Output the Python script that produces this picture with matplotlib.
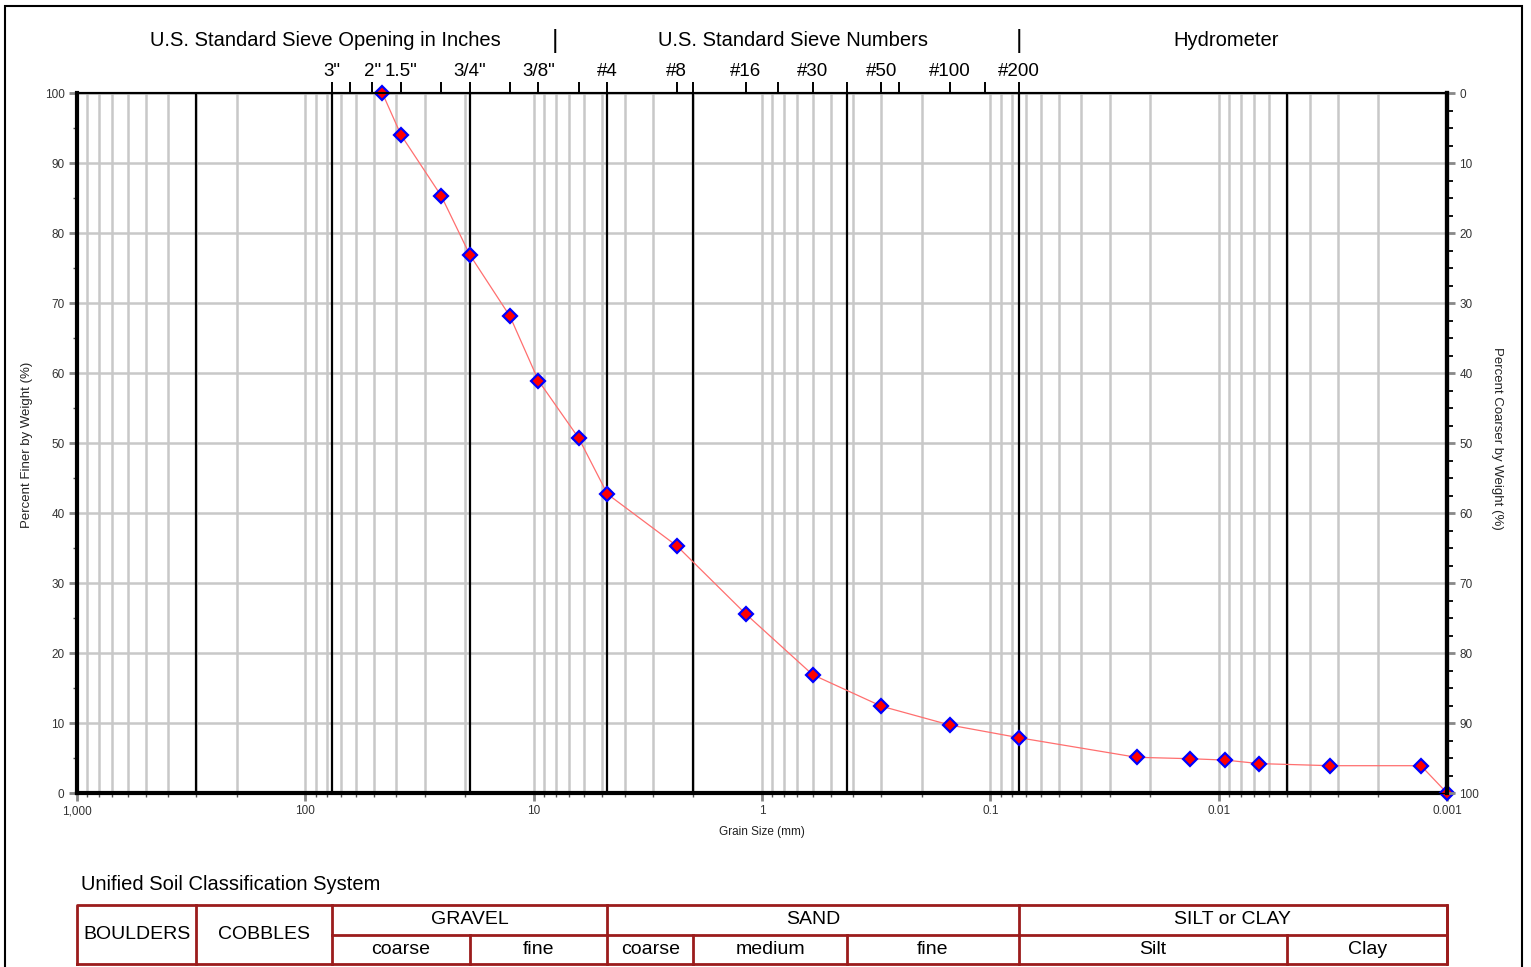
import matplotlib
matplotlib.use('Agg')
import matplotlib.pyplot as plt
from matplotlib.patches import Rectangle
from matplotlib.ticker import FixedLocator, NullLocator

plt.rcParams['font.family'] = ['Liberation Sans', 'DejaVu Sans']

# curva granulométrica
grain_mm = [46.0, 38.1, 25.4, 19.05, 12.7, 9.525, 6.35, 4.75, 2.36, 1.18, 0.6, 0.3,
            0.15, 0.075, 0.0229, 0.01335, 0.00935, 0.00665, 0.00324, 0.0013, 0.001]
pct_finer = [100, 94.0, 85.3, 76.9, 68.1, 58.9, 50.7, 42.7, 35.3, 25.6, 16.9, 12.4,
             9.7, 7.9, 5.1, 4.9, 4.7, 4.2, 3.9, 3.9, 0]

# tamices (eje superior)
sieve_mm = [76.2, 63.5, 50.8, 38.1, 25.4, 19.05, 12.7, 9.525, 6.35, 4.75, 2.36, 2.0,
            1.18, 0.85, 0.6, 0.425, 0.3, 0.25, 0.15, 0.106, 0.075]
sieve_lbl = ['3"', '', '2"', '1.5"', '', '3/4"', '', '3/8"', '', '#4', '#8', '',
             '#16', '', '#30', '', '#50', '', '#100', '', '#200']

# límites de clasificación USCS
bounds_mm = [300, 76.2, 19.05, 4.75, 2.0, 0.425, 0.075, 0.005]

x_ticks = [1000, 100, 10, 1, 0.1, 0.01, 0.001]
x_tick_lbl = ['1,000', '100', '10', '1', '0.1', '0.01', '0.001']

# tabla USCS: (desde, hasta, texto)
main_cells = [(1000, 300, 'BOULDERS'), (300, 76.2, 'COBBLES')]
top_cells = [(76.2, 4.75, 'GRAVEL'), (4.75, 0.075, 'SAND'), (0.075, 0.001, 'SILT or CLAY')]
sub_cells = [(76.2, 19.05, 'coarse'), (19.05, 4.75, 'fine'), (4.75, 2.0, 'coarse'),
             (2.0, 0.425, 'medium'), (0.425, 0.075, 'fine'), (0.075, 0.005, 'Silt'),
             (0.005, 0.001, 'Clay')]

W, H = 1531, 967
fig = plt.figure(figsize=(W / 100, H / 100), dpi=100)
fig.patch.set_facecolor('white')

ax = fig.add_axes([77 / W, 1 - 793 / H, 1370 / W, 700 / H])
ax.set_xscale('log')
ax.set_xlim(1000, 0.001)
ax.set_ylim(0, 100)

grid_c = '#c8c8c8'
ax.xaxis.set_major_locator(FixedLocator(x_ticks))
ax.xaxis.set_minor_locator(FixedLocator([k * 10.0 ** e for e in range(-3, 3) for k in range(2, 10)]))
ax.set_xticklabels(x_tick_lbl)
ax.set_yticks(range(0, 101, 10))
ax.yaxis.set_minor_locator(FixedLocator(range(5, 100, 10)))
ax.grid(which='both', axis='x', color=grid_c, lw=1.8)
ax.grid(which='major', axis='y', color=grid_c, lw=1.8)
ax.set_axisbelow(True)

ax.tick_params(axis='both', which='major', direction='out', length=6, width=2,
               color='#888888', labelsize=8.5, labelcolor='#333333', pad=3)
ax.tick_params(axis='both', which='minor', direction='out', length=3, width=1,
               color='#555555')
ax.tick_params(top=False, which='both')

for b in bounds_mm:
    ax.axvline(b, color='black', lw=1.6, zorder=2)

ax.plot(grain_mm, pct_finer, color='#ff6f6f', lw=0.9, zorder=3)
ax.plot(grain_mm, pct_finer, 'D', ms=7, mfc='red', mec='blue', mew=1.6, zorder=5,
        clip_on=False)

for s in ['left', 'bottom', 'right']:
    ax.spines[s].set_linewidth(3)
ax.spines['top'].set_linewidth(1.5)

# eje derecho: porcentaje retenido
ax_r = ax.twinx()
ax_r.set_ylim(100, 0)
ax_r.set_yticks(range(0, 101, 10))
ax_r.yaxis.set_minor_locator(FixedLocator([v * 2.5 for v in range(41)]))
ax_r.tick_params(axis='y', which='major', direction='out', length=6, width=2,
                 color='#888888', labelsize=8.5, labelcolor='#333333', pad=3)
ax_r.tick_params(axis='y', which='minor', direction='out', length=4, width=1.3,
                 color='black')
ax_r.spines['right'].set_linewidth(3)

# eje superior: tamices
ax_t = ax.twiny()
ax_t.set_xscale('log')
ax_t.set_xlim(1000, 0.001)
ax_t.xaxis.set_major_locator(FixedLocator(sieve_mm))
ax_t.xaxis.set_minor_locator(NullLocator())
ax_t.set_xticklabels(sieve_lbl)
ax_t.tick_params(axis='x', direction='out', length=8, width=1.4, color='black',
                 labelsize=13.5, pad=1)
ax_t.spines['top'].set_linewidth(1.5)

fig.text(325 / W, 1 - 41 / H, 'U.S. Standard Sieve Opening in Inches', fontsize=14.5,
         ha='center', va='center')
fig.text(793 / W, 1 - 41 / H, 'U.S. Standard Sieve Numbers', fontsize=14.5,
         ha='center', va='center')
fig.text(1226 / W, 1 - 41 / H, 'Hydrometer', fontsize=14.5, ha='center', va='center')
for xs in [555, 1019]:
    fig.text(xs / W, 1 - 41 / H, '|', fontsize=18, ha='center', va='center')

fig.text(762 / W, 1 - 832 / H, 'Grain Size (mm)', fontsize=8.5, ha='center',
         va='center', color='#222222')
fig.text(27 / W, 1 - 445 / H, 'Percent Finer by Weight (%)', fontsize=9.5, rotation=90,
         ha='center', va='center', color='#222222')
fig.text(1497 / W, 1 - 438 / H, 'Percent Coarser by Weight (%)', fontsize=9.5,
         rotation=-90, ha='center', va='center', color='#222222')

# tabla de clasificación
fig.text(81 / W, 1 - 884 / H, 'Unified Soil Classification System', fontsize=14.5,
         ha='left', va='center')
tab = fig.add_axes([77 / W, 1 - 964 / H, 1370 / W, (964 - 905) / H])
tab.set_xscale('log')
tab.set_xlim(1000, 0.001)
tab.set_ylim(0, 2)
tab.axis('off')
red = '#9b1c1c'
lk = dict(color=red, lw=2, clip_on=False, solid_capstyle='projecting')
tab.plot([1000, 0.001, 0.001, 1000, 1000], [0, 0, 2, 2, 0], **lk)
tab.plot([76.2, 0.001], [1, 1], **lk)
for a, b, t in main_cells:
    tab.plot([b, b], [0, 2], **lk)
    tab.text((a * b) ** 0.5, 1, t, fontsize=14, ha='center', va='center')
for a, b, t in top_cells:
    tab.plot([b, b], [1, 2], **lk)
    tab.text((a * b) ** 0.5, 1.5, t, fontsize=14, ha='center', va='center')
for a, b, t in sub_cells:
    tab.plot([b, b], [0, 1], **lk)
    tab.text((a * b) ** 0.5, 0.5, t, fontsize=14, ha='center', va='center')

fig.add_artist(Rectangle((5 / W, -0.01), (1522 - 5) / W, 1 - 6 / H + 0.01,
                         transform=fig.transFigure, fill=False, lw=1.5, ec='black'))

fig.savefig('out.png', dpi=100)
